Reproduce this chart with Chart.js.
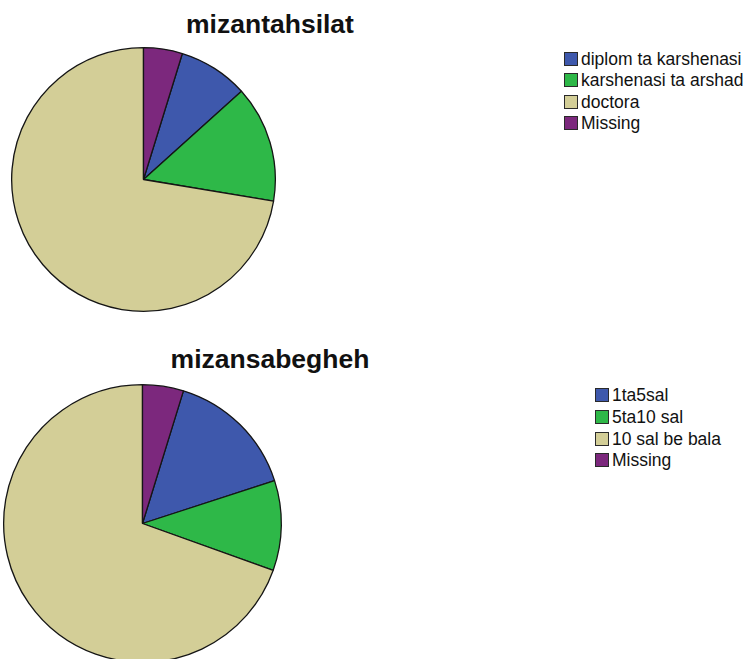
<!DOCTYPE html>
<html>
<head>
<meta charset="utf-8">
<script src="https://cdn.jsdelivr.net/npm/chart.js@4"></script>
<style>
  html, body { margin: 0; padding: 0; background: #fff; }
  body { width: 747px; height: 659px; position: relative; overflow: hidden; font-family: "Liberation Sans", Arial, sans-serif; }
  .titulo { position: absolute; left: 0; width: 540px; text-align: center; font-weight: bold; font-size: 26.5px; line-height: 26px; color: #111; }
  canvas { position: absolute; }
  .leyenda { position: absolute; }
  .fila { position: absolute; left: 0; white-space: nowrap; font-size: 17.5px; line-height: 17px; color: #111; }
  .caja { position: absolute; left: 0; width: 12px; height: 12px; border: 1px solid #2a2a2a; }
  .texto { position: absolute; left: 17px; top: 0; }
</style>
</head>
<body>
<div class="titulo" style="top:11px">mizantahsilat</div>
<div class="titulo" style="top:346px">mizansabegheh</div>
<canvas id="pie1" width="269" height="269" style="left:9px;top:45px"></canvas>
<canvas id="pie2" width="283" height="283" style="left:1px;top:382px"></canvas>
<div class="leyenda" id="ley1" style="left:564px;top:52px"></div>
<div class="leyenda" id="ley2" style="left:595px;top:388px"></div>
<script>
// datos (frecuencias, N = 105)
const etiquetasTahsilat = ["diplom ta karshenasi", "karshenasi ta arshad", "doctora", "Missing"];
const valoresTahsilat = [9, 15, 76, 5];

const etiquetasSabegheh = ["1ta5sal", "5ta10 sal", "10 sal be bala", "Missing"];
const valoresSabegheh = [16, 11, 73, 5];

const coloresSPSS = ["#3e58ac", "#2eb848", "#d3ce97", "#7c287d"];

const crearPie = (id, etiquetas, valores) => {
    const total = valores.reduce((a, b) => a + b, 0);
    // el ultimo sector (Missing) termina justo en las 12
    const rotacion = (valores[valores.length - 1] / total) * 360;
    return new Chart(document.getElementById(id), {
        type: "pie",
        data: {
            labels: etiquetas,
            datasets: [
                {
                    data: valores,
                    backgroundColor: coloresSPSS,
                    borderColor: "#151515",
                    borderWidth: 1.3,
                },
            ],
        },
        options: {
            responsive: false,
            animation: false,
            rotation: rotacion,
            layout: { padding: 2 },
            plugins: {
                legend: { display: false },
                title: { display: false },
                tooltip: { enabled: false },
            },
        },
    });
};

const crearLeyenda = (chart, idDiv, paso) => {
    const div = document.getElementById(idDiv);
    const colores = chart.data.datasets[0].backgroundColor;
    chart.data.labels.forEach((etiqueta, i) => {
        const fila = document.createElement("div");
        fila.className = "fila";
        fila.style.top = Math.round(i * paso) + "px";
        const caja = document.createElement("div");
        caja.className = "caja";
        caja.style.background = colores[i];
        const texto = document.createElement("div");
        texto.className = "texto";
        texto.style.top = "-1px";
        texto.textContent = etiqueta;
        fila.appendChild(caja);
        fila.appendChild(texto);
        div.appendChild(fila);
    });
};

const pie1 = crearPie("pie1", etiquetasTahsilat, valoresTahsilat);
const pie2 = crearPie("pie2", etiquetasSabegheh, valoresSabegheh);
crearLeyenda(pie1, "ley1", 21.3);
crearLeyenda(pie2, "ley2", 21.8);
</script>
</body>
</html>
